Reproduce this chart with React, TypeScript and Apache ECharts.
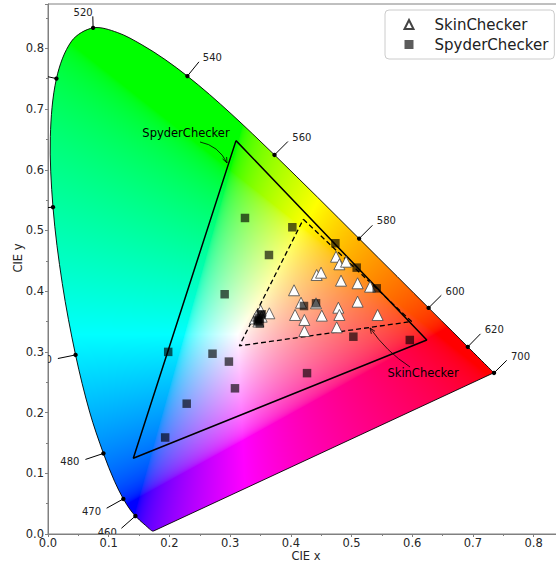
import React, { useEffect, useRef } from "react";
import * as echarts from "echarts";

// CIE 1931 2° spectral locus (chromaticity coordinates)
const WAVELENGTHS = [
  380, 385, 390, 395, 400, 405, 410, 415, 420, 425, 430, 435, 440, 445, 450, 455, 460, 465, 470, 475,
  480, 485, 490, 495, 500, 505, 510, 515, 520, 525, 530, 535, 540, 545, 550, 555, 560, 565, 570, 575,
  580, 585, 590, 595, 600, 605, 610, 615, 620, 625, 630, 635, 640, 645, 650, 655, 660, 665, 670, 675,
  680, 685, 690, 695, 700,
];
const LOCUS_X = [
  0.1741, 0.174, 0.1738, 0.1736, 0.1733, 0.173, 0.1726, 0.1721, 0.1714, 0.1703, 0.1689, 0.1669, 0.1644, 0.1611, 0.1566, 0.151, 0.144, 0.1355, 0.1241, 0.1096,
  0.0913, 0.0687, 0.0454, 0.0235, 0.0082, 0.0039, 0.0139, 0.0389, 0.0743, 0.1142, 0.1547, 0.1929, 0.2296, 0.2658, 0.3016, 0.3373, 0.3731, 0.4087, 0.4441, 0.4788,
  0.5125, 0.5448, 0.5752, 0.6029, 0.627, 0.6482, 0.6658, 0.6801, 0.6915, 0.7006, 0.7079, 0.714, 0.719, 0.723, 0.726, 0.7283, 0.73, 0.7311, 0.732, 0.7327,
  0.7334, 0.734, 0.7344, 0.7346, 0.7347,
];
const LOCUS_Y = [
  0.005, 0.005, 0.0049, 0.0049, 0.0048, 0.0048, 0.0048, 0.0048, 0.0051, 0.0058, 0.0069, 0.0086, 0.0109, 0.0138, 0.0177, 0.0227, 0.0297, 0.0399, 0.0578, 0.0868,
  0.1327, 0.2007, 0.295, 0.4127, 0.5384, 0.6548, 0.7502, 0.812, 0.8338, 0.8262, 0.8059, 0.7816, 0.7543, 0.7243, 0.6923, 0.6589, 0.6245, 0.5896, 0.5547, 0.5202,
  0.4866, 0.4544, 0.4242, 0.3965, 0.3725, 0.3514, 0.334, 0.3197, 0.3083, 0.2993, 0.292, 0.2859, 0.2809, 0.277, 0.274, 0.2717, 0.27, 0.2689, 0.268, 0.2673,
  0.2666, 0.266, 0.2656, 0.2654, 0.2653,
];
const LABELLED_WL = [460, 470, 480, 490, 500, 510, 520, 540, 560, 580, 600, 620, 700];
// pixel direction/length of each label's leader line (style)
const LABEL_OFFSETS = [
  [-14, 12.3], [-16.7, 9.3], [-18, 6], [-17.7, 3.6], [-18.4, 1.5], [-17.6, -3.9], [-0.3, -11.5],
  [11.6, -14.3], [13.4, -13.4], [13.3, -13.3], [12.7, -12.6], [12.7, -13], [12.7, -12.6],
];

// SkinChecker patches
const SKIN_X = [
  0.4745, 0.48, 0.491, 0.4426, 0.4498, 0.4827, 0.51, 0.5305, 0.4053, 0.4168, 0.4415, 0.51, 0.4783, 0.407, 0.4223,
  0.451, 0.48, 0.543, 0.4223, 0.4756, 0.3646, 0.341, 0.3465, 0.3504, 0.344, 0.352,
];
const SKIN_Y = [
  0.4568, 0.4443, 0.4486, 0.4267, 0.4305, 0.4173, 0.413, 0.4074, 0.4015, 0.381, 0.38, 0.3827, 0.3728, 0.3608, 0.3526,
  0.3597, 0.3608, 0.3608, 0.3344, 0.3405, 0.3636, 0.355, 0.35, 0.368, 0.36, 0.358,
];
// SpyderChecker patches
const SPYDER_X = [
  0.3245, 0.364, 0.291, 0.198, 0.271, 0.298, 0.308, 0.2285, 0.193, 0.4025, 0.4734, 0.5085, 0.5415, 0.4415, 0.4217,
  0.503, 0.596, 0.4267, 0.3504, 0.3465, 0.349, 0.352, 0.345, 0.348,
];
const SPYDER_Y = [
  0.5206, 0.4596, 0.395, 0.3, 0.297, 0.284, 0.24, 0.2147, 0.159, 0.5053, 0.479, 0.4388, 0.4047, 0.38, 0.3756,
  0.325, 0.3196, 0.265, 0.3608, 0.35, 0.347, 0.362, 0.352, 0.355,
];

// gamut triangles
const SKIN_GAMUT_X = [0.4206, 0.599, 0.3152];
const SKIN_GAMUT_Y = [0.5184, 0.35, 0.31];
const SPYDER_GAMUT_X = [0.3097, 0.624, 0.1405];
const SPYDER_GAMUT_Y = [0.648, 0.3196, 0.1247];

// annotations
const ANNOT_TEXT = ["SpyderChecker", "SkinChecker"];
const ANNOT_TEXT_X = [0.2273, 0.6178];
const ANNOT_TEXT_Y = [0.6606, 0.2652];
const ANNOT_TAIL_X = [0.2504, 0.5964];
const ANNOT_TAIL_Y = [0.6458, 0.2751];
const ANNOT_TIP_X = [0.2949, 0.5305];
const ANNOT_TIP_Y = [0.6112, 0.3394];
const ANNOT_RAD = [0.25, 0.1];

const X_MAX = 0.85;
const Y_MAX = 0.8731;
const FONT = "DejaVu Sans";

function smoothPath(pts: number[][], smooth: number, ox: number, oy: number): string {
  const p: number[][] = [];
  for (const q of pts) {
    const last = p[p.length - 1];
    if (!last || Math.hypot(q[0] - last[0], q[1] - last[1]) > 0.7) p.push(q);
  }
  const n = p.length;
  let d = "";
  let cpx0 = 0, cpy0 = 0, prevX = 0, prevY = 0;
  for (let k = 0; k < n; k++) {
    const x = p[k][0], y = p[k][1];
    if (k === 0) {
      d += `M${x + ox},${y + oy}`;
      cpx0 = x; cpy0 = y;
    } else {
      let vx = 0, vy = 0, ratio = 0.5, ncx = x, ncy = y;
      if (k < n - 1) {
        const nx = p[k + 1][0], ny = p[k + 1][1];
        vx = nx - prevX; vy = ny - prevY;
        const l0 = Math.hypot(x - prevX, y - prevY), l1 = Math.hypot(nx - x, ny - y);
        ratio = l1 / (l0 + l1);
        ncx = x - vx * smooth * (1 - ratio);
        ncy = y - vy * smooth * (1 - ratio);
      }
      d += ` C${cpx0 + ox},${cpy0 + oy} ${ncx + ox},${ncy + oy} ${x + ox},${y + oy}`;
      cpx0 = x + vx * smooth * ratio;
      cpy0 = y + vy * smooth * ratio;
    }
    prevX = x; prevY = y;
  }
  return d + " Z";
}

function enc(c: number): number {
  c = Math.max(0, Math.min(1, c));
  return c <= 0.0031308 ? 12.92 * c : 1.055 * Math.pow(c, 1 / 2.4) - 0.055;
}

function buildImage(pts: number[][], o: number[], u: number[]) {
  const xs = pts.map((q) => q[0]);
  const ys = pts.map((q) => q[1]);
  const x0 = Math.floor(Math.min(...xs)) - 1;
  const y0 = Math.floor(Math.min(...ys)) - 1;
  const w = Math.ceil(Math.max(...xs)) + 1 - x0;
  const h = Math.ceil(Math.max(...ys)) + 1 - y0;
  const sx = u[0] - o[0];
  const sy = u[1] - o[1];
  const tmp = document.createElement("canvas");
  tmp.width = w; tmp.height = h;
  const tctx = tmp.getContext("2d")!;
  const img = tctx.createImageData(w, h);
  for (let j = 0; j < h; j++) {
    const cy = (y0 + j + 0.5 - o[1]) / sy;
    for (let i = 0; i < w; i++) {
      const cx = (x0 + i + 0.5 - o[0]) / sx;
      const k = (j * w + i) * 4;
      if (cy <= 0.0005) { img.data[k + 3] = 0; continue; }
      const X = cx / cy, Y = 1, Z = (1 - cx - cy) / cy;
      const R = 3.2404542 * X - 1.5371385 * Y - 0.4985314 * Z;
      const G = -0.969266 * X + 1.8760108 * Y + 0.041556 * Z;
      const B = 0.0556434 * X - 0.2040259 * Y + 1.0572252 * Z;
      const m = Math.max(R, G, B);
      img.data[k] = Math.round(enc(R / m) * 255);
      img.data[k + 1] = Math.round(enc(G / m) * 255);
      img.data[k + 2] = Math.round(enc(B / m) * 255);
      img.data[k + 3] = 255;
    }
  }
  tctx.putImageData(img, 0, 0);
  const cv = document.createElement("canvas");
  cv.width = w; cv.height = h;
  const ctx = cv.getContext("2d")!;
  ctx.save();
  ctx.clip(new Path2D(smoothPath(pts, 0.33, -x0, -y0)));
  ctx.drawImage(tmp, 0, 0);
  ctx.restore();
  return { url: cv.toDataURL(), x: x0, y: y0, w, h };
}

function closed(xs: number[], ys: number[]) {
  const d = xs.map((x, i) => [x, ys[i]]);
  d.push([xs[0], ys[0]]);
  return d;
}

export default function App() {
  const ref = useRef<HTMLDivElement>(null);
  useEffect(() => {
    if (!ref.current) return;
    const chart = echarts.init(ref.current, null, { renderer: "svg" });
    const axisColor = "#808080";
    const labelColor = "#262626";
    const option: any = {
      animation: false,
      textStyle: { fontFamily: FONT },
      grid: {
        left: 48, top: 4, width: 516, height: 530,
        show: true, borderColor: axisColor, borderWidth: 1,
        containLabel: false, outerBoundsMode: "none",
      },
      legend: {
        orient: "vertical",
        left: 385,
        top: 10,
        padding: [7, 6, 7, 18.5],
        itemWidth: 9,
        itemHeight: 9,
        itemGap: 5,
        backgroundColor: "rgba(255,255,255,0.8)",
        borderColor: "#cccccc",
        borderWidth: 1,
        borderRadius: 4,
        textStyle: { fontSize: 15, fontFamily: FONT, color: "#222", lineHeight: 15, padding: [0, 0, 0, 16] },
        data: [
          { name: "SkinChecker", icon: "triangle" },
          { name: "SpyderChecker", icon: "rect" },
        ],
      },
      xAxis: {
        type: "value",
        min: 0,
        max: X_MAX,
        interval: 0.1,
        name: "CIE x",
        nameLocation: "middle",
        nameGap: 16,
        nameMoveOverlap: false,
        nameTextStyle: { fontSize: 11.5, color: labelColor, fontFamily: FONT },
        axisLine: { show: true, lineStyle: { color: axisColor } },
        axisTick: { show: true, length: 3, lineStyle: { color: axisColor } },
        minorTick: { show: true, splitNumber: 2, length: 2, lineStyle: { color: axisColor } },
        splitLine: { show: false },
        axisLabel: {
          fontSize: 11.5, color: labelColor, margin: 3, fontFamily: FONT, showMaxLabel: false,
          formatter: (v: number) => v.toFixed(1),
        },
      },
      yAxis: {
        type: "value",
        min: 0,
        max: Y_MAX,
        interval: 0.1,
        name: "CIE y",
        nameLocation: "middle",
        nameGap: 24,
        nameMoveOverlap: false,
        nameTextStyle: { fontSize: 11.5, color: labelColor, fontFamily: FONT, padding: [0, 0, 0, 22] },
        axisLine: { show: true, lineStyle: { color: axisColor } },
        axisTick: { show: true, length: 3, lineStyle: { color: axisColor } },
        minorTick: { show: true, splitNumber: 2, length: 2, lineStyle: { color: axisColor } },
        splitLine: { show: false },
        axisLabel: {
          fontSize: 11.5, color: labelColor, margin: 4, fontFamily: FONT, showMaxLabel: false,
          formatter: (v: number) => v.toFixed(1),
        },
      },
      series: [
        {
          type: "custom",
          name: "diagram",
          silent: true,
          z: 1,
          data: [[0, 0]],
          renderItem: (params: any, api: any) => {
            const pts = LOCUS_X.map((x, i) => api.coord([x, LOCUS_Y[i]]));
            const o = api.coord([0, 0]);
            const u = api.coord([1, 1]);
            const im = buildImage(pts, o, u);
            return {
              type: "group",
              children: [
                { type: "image", style: { image: im.url, x: im.x, y: im.y, width: im.w, height: im.h } },
                {
                  type: "path",
                  shape: { pathData: smoothPath(pts, 0.33, 0, 0) },
                  style: { fill: "none", stroke: "#000", lineWidth: 0.9 },
                },
              ],
            };
          },
        },
        {
          type: "custom",
          name: "wavelengths",
          silent: true,
          z: 2,
          data: LABELLED_WL.map((wl) => {
            const i = WAVELENGTHS.indexOf(wl);
            return [LOCUS_X[i], LOCUS_Y[i], wl];
          }),
          renderItem: (params: any, api: any) => {
            const p = api.coord([api.value(0), api.value(1)]);
            const wl = api.value(2);
            const off = LABEL_OFFSETS[params.dataIndex];
            const cs = params.coordSys;
            return {
              type: "group",
              clipPath: { type: "rect", shape: { x: cs.x, y: cs.y, width: cs.width, height: cs.height } },
              children: [
                {
                  type: "line",
                  shape: { x1: p[0], y1: p[1], x2: p[0] + off[0], y2: p[1] + off[1] },
                  style: { stroke: "#000", lineWidth: 1 },
                },
                { type: "circle", shape: { cx: p[0], cy: p[1], r: 2.2 }, style: { fill: "#000" } },
                {
                  type: "text",
                  x: p[0] + (off[0] * 4) / 3,
                  y: p[1] + (off[1] * 4) / 3,
                  style: {
                    text: String(wl),
                    fill: "#222",
                    fontSize: 10,
                    fontFamily: FONT,
                    align: off[0] >= 0 ? "left" : "right",
                    verticalAlign: "middle",
                  },
                },
              ],
            };
          },
        },
        {
          type: "line",
          name: "skinGamut",
          z: 3,
          silent: true,
          symbol: "none",
          data: closed(SKIN_GAMUT_X, SKIN_GAMUT_Y),
          lineStyle: { color: "#000", width: 1.3, type: [5, 3] },
        },
        {
          type: "line",
          name: "spyderGamut",
          z: 3,
          silent: true,
          symbol: "none",
          data: closed(SPYDER_GAMUT_X, SPYDER_GAMUT_Y),
          lineStyle: { color: "#000", width: 1.5 },
        },
        {
          type: "scatter",
          name: "SkinChecker",
          z: 4,
          symbol: "triangle",
          symbolSize: 11,
          data: SKIN_X.map((x, i) => [x, SKIN_Y[i]]),
          itemStyle: { color: "#ffffff", borderColor: "#444", borderWidth: 0.8, opacity: 1 },
        },
        {
          type: "scatter",
          name: "SpyderChecker",
          z: 5,
          symbol: "rect",
          symbolSize: 8.5,
          data: SPYDER_X.map((x, i) => [x, SPYDER_Y[i]]),
          itemStyle: { color: "rgba(0,0,0,0.8)" },
        },
        {
          type: "custom",
          name: "annotations",
          silent: true,
          z: 6,
          data: ANNOT_TEXT.map((_, i) => [ANNOT_TEXT_X[i], ANNOT_TEXT_Y[i]]),
          renderItem: (params: any, api: any) => {
            const i = params.dataIndex;
            const t = api.coord([ANNOT_TEXT_X[i], ANNOT_TEXT_Y[i]]);
            const a = api.coord([ANNOT_TAIL_X[i], ANNOT_TAIL_Y[i]]);
            const b = api.coord([ANNOT_TIP_X[i], ANNOT_TIP_Y[i]]);
            const dx = b[0] - a[0], dy = b[1] - a[1];
            const rad = ANNOT_RAD[i];
            const c = [(a[0] + b[0]) / 2 + rad * dy, (a[1] + b[1]) / 2 - rad * dx];
            const ang = Math.atan2(b[1] - c[1], b[0] - c[0]);
            const hl = 6, ha = 0.38;
            const h1 = [b[0] - hl * Math.cos(ang - ha), b[1] - hl * Math.sin(ang - ha)];
            const h2 = [b[0] - hl * Math.cos(ang + ha), b[1] - hl * Math.sin(ang + ha)];
            return {
              type: "group",
              children: [
                {
                  type: "text",
                  x: t[0],
                  y: t[1],
                  style: {
                    text: ANNOT_TEXT[i], fill: "#000", fontSize: 11.5, fontFamily: FONT,
                    align: "center", verticalAlign: "middle",
                  },
                },
                {
                  type: "bezierCurve",
                  shape: { x1: a[0], y1: a[1], x2: b[0], y2: b[1], cpx1: c[0], cpy1: c[1] },
                  style: { stroke: "#000", lineWidth: 0.8, fill: "none" },
                },
                {
                  type: "polyline",
                  shape: { points: [h1, b, h2] },
                  style: { stroke: "#000", lineWidth: 0.8, fill: "none" },
                },
              ],
            };
          },
        },
      ],
    };
    chart.setOption(option);
    return () => chart.dispose();
  }, []);
  return (
    <div style={{ position: "fixed", left: 0, top: 0, width: 556, height: 563, overflow: "hidden", background: "#fff" }}>
      <div ref={ref} style={{ width: 556, height: 563 }} />
    </div>
  );
}
